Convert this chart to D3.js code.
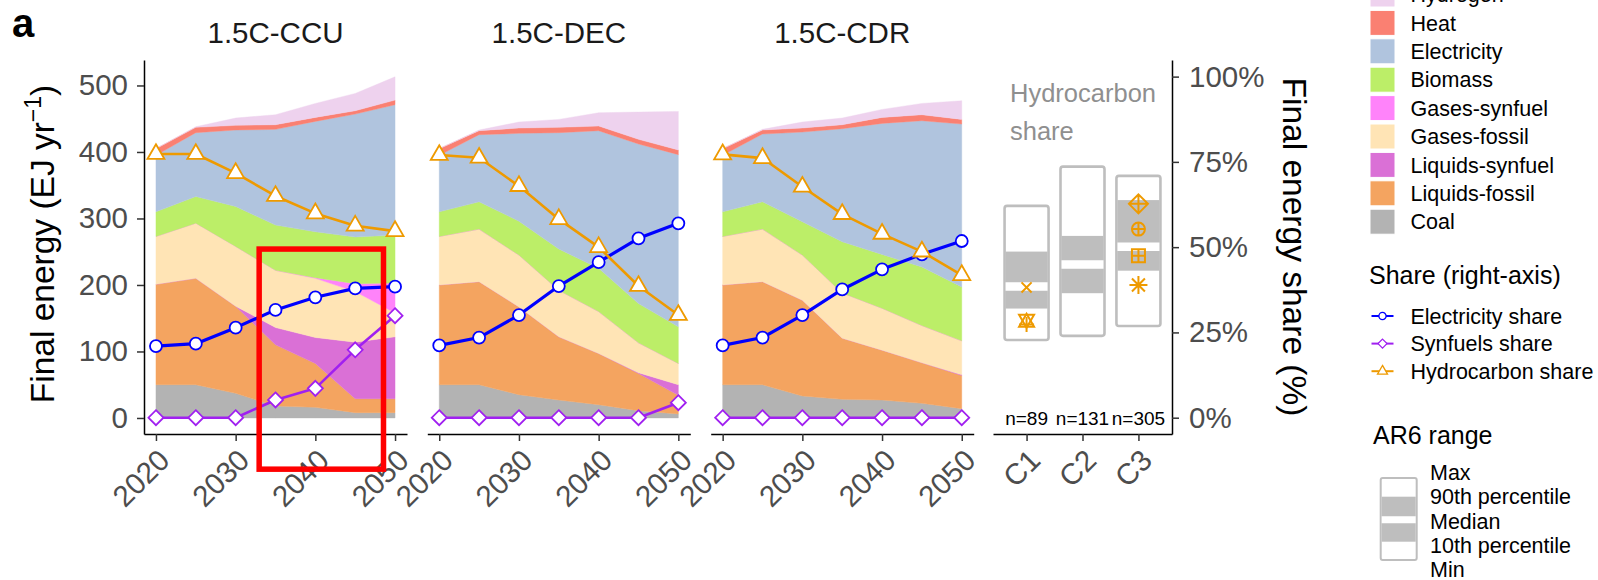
<!DOCTYPE html>
<html>
<head>
<meta charset="utf-8">
<script src="https://cdn.jsdelivr.net/npm/d3@7"></script>
<style>
  body { margin: 0; background: #fff; }
  text { font-family: "Liberation Sans", Arial, sans-serif; }
</style>
</head>
<body>
<svg id="chart" width="1598" height="580"></svg>
<script>
// ---- data ----
var years = [2020, 2025, 2030, 2035, 2040, 2045, 2050];
var scenarios = ["1.5C-CCU", "1.5C-DEC", "1.5C-CDR"];
var fuels = ["Coal", "Liquids-fossil", "Liquids-synfuel", "Gases-fossil", "Gases-synfuel",
             "Biomass", "Electricity", "Heat", "Hydrogen"];
var fuelColours = ["#b3b3b3", "#f4a460", "#da70d6", "#ffe4b5", "#ff83fa",
                   "#bcee68", "#b0c4de", "#fa8072", "#eed2ee"];

// final energy by fuel (EJ/yr), rows in the order of `fuels`
var energyCCU = [
  [50, 50, 37, 18, 16, 8, 8],
  [151, 160, 131, 92, 66, 21, 21],
  [0, 0, 0, 26, 39, 85, 93],
  [72, 83, 90, 86, 89, 76, 36],
  [0, 0, 0, 0, 1, 12, 45],
  [37, 40, 60, 68, 69, 70, 72],
  [85, 96, 115, 144, 166, 185, 196],
  [10, 8, 7, 7, 6, 5, 7],
  [0, 1, 11, 15, 21, 26, 35]
];
var energyDEC = [
  [50, 50, 35, 27, 20, 11, 6],
  [150, 155, 132, 95, 77, 56, 28],
  [0, 0, 0, 0, 0, 1, 16],
  [73, 79, 78, 70, 63, 45, 32],
  [0, 0, 0, 0, 0, 0, 0],
  [37, 41, 51, 62, 65, 59, 55],
  [85, 101, 132, 175, 207, 240, 259],
  [10, 6, 8, 8, 7, 7, 7],
  [0, 1, 9, 12, 20, 41, 58]
];
var energyCDR = [
  [50, 50, 33, 28, 27, 22, 14],
  [150, 155, 144, 92, 75, 61, 50],
  [0, 0, 0, 0, 0, 0, 1],
  [73, 79, 68, 68, 63, 56, 51],
  [0, 0, 0, 0, 0, 0, 0],
  [37, 41, 50, 77, 81, 88, 81],
  [85, 102, 135, 170, 197, 220, 245],
  [10, 6, 6, 6, 9, 9, 7],
  [0, 1, 9, 10, 12, 17, 28]
];

// shares (right axis): electricity, synfuels, hydrocarbon
var shareNames = ["Electricity share", "Synfuels share", "Hydrocarbon share"];
var shareColours = ["#0000ff", "#a020f0", "#ee9a00"];
var shareShapes = ["circle", "diamond", "triangle"];
var shareCCU = [
  [0.210, 0.217, 0.264, 0.316, 0.353, 0.379, 0.384],
  [0, 0, 0, 0.052, 0.086, 0.199, 0.299],
  [0.773, 0.773, 0.717, 0.650, 0.599, 0.563, 0.547]
];
var shareDEC = [
  [0.212, 0.235, 0.301, 0.386, 0.456, 0.526, 0.570],
  [0, 0, 0, 0, 0, 0, 0.044],
  [0.770, 0.762, 0.679, 0.582, 0.500, 0.386, 0.301]
];
var shareCDR = [
  [0.212, 0.235, 0.301, 0.376, 0.435, 0.479, 0.518],
  [0, 0, 0, 0, 0, 0, 0],
  [0.772, 0.761, 0.677, 0.597, 0.539, 0.487, 0.418]
];

// AR6 hydrocarbon share ranges
var ar6Cats = ["C1", "C2", "C3"];
var ar6N = [89, 131, 305];
var ar6Min = [0.228, 0.240, 0.269];
var ar6P10 = [0.320, 0.365, 0.431];
var ar6Median = [0.385, 0.449, 0.501];
var ar6P90 = [0.487, 0.533, 0.638];
var ar6Max = [0.621, 0.736, 0.709];
var ar6MarkerCat = ["C1", "C1", "C1", "C1", "C3", "C3", "C3", "C3"];
var ar6MarkerValue = [0.382, 0.289, 0.279, 0.273, 0.627, 0.553, 0.475, 0.389];
var ar6MarkerShape = ["x", "triDown", "triUp", "plus", "diamondPlus", "circlePlus", "squarePlus", "asterisk"];

var yTicks = [0, 100, 200, 300, 400, 500];
var shareTicks = [0, 0.25, 0.5, 0.75, 1];
var yearTicks = [2020, 2030, 2040, 2050];

// ---- layout ----
var svg = d3.select("#chart");
var font = "'Liberation Sans', Arial, sans-serif";
var panelLeft = [144, 427.3, 710.7];
var panelWidth = 263;
var plotTop = 60, plotBottom = 434;
var orange = "#ee9a00";
var boxGrey = "#bebebe";

var yEnergy = d3.scaleLinear().domain([-24.1, 538.3]).range([plotBottom, plotTop]);
var yShare = d3.scaleLinear().domain([-0.0478, 1.0487]).range([plotBottom, plotTop]);

function markerPath(shape, x, y, s) {
  var p = d3.path();
  var h = s * Math.sqrt(3);
  if (shape === "diamond" || shape === "diamondPlus") {
    p.moveTo(x, y - s); p.lineTo(x + s, y); p.lineTo(x, y + s); p.lineTo(x - s, y); p.closePath();
  }
  if (shape === "triangle" || shape === "triUp") {
    p.moveTo(x, y - 2 * h / 3); p.lineTo(x + s, y + h / 3); p.lineTo(x - s, y + h / 3); p.closePath();
  }
  if (shape === "triDown") {
    p.moveTo(x, y + 2 * h / 3); p.lineTo(x + s, y - h / 3); p.lineTo(x - s, y - h / 3); p.closePath();
  }
  if (shape === "squarePlus") {
    p.rect(x - s, y - s, 2 * s, 2 * s);
  }
  if (shape === "circle" || shape === "circlePlus") {
    p.moveTo(x + s, y); p.arc(x, y, s, 0, 2 * Math.PI);
  }
  if (shape === "plus" || shape === "asterisk" || /Plus$/.test(shape)) {
    p.moveTo(x - s, y); p.lineTo(x + s, y); p.moveTo(x, y - s); p.lineTo(x, y + s);
  }
  if (shape === "x" || shape === "asterisk") {
    var d = s * 0.72;
    p.moveTo(x - d, y - d); p.lineTo(x + d, y + d); p.moveTo(x - d, y + d); p.lineTo(x + d, y - d);
  }
  return p.toString();
}

function styleAxis(g, size) {
  g.selectAll(".domain").attr("stroke", "#000").attr("stroke-width", 1.5);
  g.selectAll(".tick line").attr("stroke", "#333").attr("stroke-width", 1.5);
  g.selectAll(".tick text").attr("fill", "#4d4d4d").attr("font-size", size).attr("font-family", font);
}

function rotateLabels(g) {
  g.selectAll(".tick text")
    .attr("x", 0).attr("y", 0).attr("dy", "0.72em")
    .attr("transform", "translate(0,13) rotate(-45)")
    .style("text-anchor", "end");
}

var energySets = [energyCCU, energyDEC, energyCDR];
var shareSets = [shareCCU, shareDEC, shareCDR];
var redBoxX = null;

scenarios.forEach(function (name, p) {
  var x = d3.scaleLinear().domain([2018.5, 2051.5]).range([panelLeft[p], panelLeft[p] + panelWidth]);
  if (p === 0) redBoxX = x;
  var energy = energySets[p];
  var rows = years.map(function (yr, i) {
    var r = { year: yr };
    fuels.forEach(function (f, j) { r[f] = energy[j][i]; });
    return r;
  });
  var series = d3.stack().keys(fuels)(rows);
  var area = d3.area()
    .x(function (d) { return x(d.data.year); })
    .y0(function (d) { return yEnergy(d[0]); })
    .y1(function (d) { return yEnergy(d[1]); });

  var g = svg.append("g");
  g.selectAll("path.layer").data(series).enter().append("path")
    .attr("class", "layer")
    .attr("d", area)
    .attr("fill", function (d, i) { return fuelColours[i]; })
    .attr("stroke", function (d, i) { return fuelColours[i]; })
    .attr("stroke-width", 0.4);

  var shares = shareSets[p];
  var line = d3.line()
    .x(function (d, i) { return x(years[i]); })
    .y(function (d) { return yShare(d); });
  shares.forEach(function (s, k) {
    g.append("path").attr("d", line(s)).attr("fill", "none")
      .attr("stroke", shareColours[k]).attr("stroke-width", k === 0 ? 3.2 : 2.6)
      .attr("stroke-linejoin", "round");
  });
  var sizes = [6, 7.5, 8.5];
  shares.forEach(function (s, k) {
    g.selectAll("path.pt" + k).data(s).enter().append("path")
      .attr("class", "pt" + k)
      .attr("d", function (d, i) { return markerPath(shareShapes[k], x(years[i]), yShare(d), sizes[k]); })
      .attr("fill", "#fff").attr("stroke", shareColours[k]).attr("stroke-width", 1.8);
  });

  var ax = svg.append("g").attr("transform", "translate(0," + plotBottom + ")")
    .call(d3.axisBottom(x).tickValues(yearTicks).tickFormat(d3.format("d")).tickSize(7).tickSizeOuter(0));
  styleAxis(ax, 29.5);
  rotateLabels(ax);

  svg.append("text").attr("x", panelLeft[p] + panelWidth / 2).attr("y", 43)
    .attr("text-anchor", "middle").attr("font-size", 29.5).attr("fill", "#1a1a1a").text(name);
});

// left axis
var axL = svg.append("g").attr("transform", "translate(" + panelLeft[0] + ",0)")
  .call(d3.axisLeft(yEnergy).tickValues(yTicks).tickSize(7).tickPadding(9).tickSizeOuter(0));
styleAxis(axL, 29.5);

// ---- AR6 panel ----
var xCat = d3.scalePoint().domain(ar6Cats).range([993, 1172]).padding(0.6);
var ar6 = svg.append("g");
var bw = 44;
ar6Cats.forEach(function (c, i) {
  var cx = xCat(c);
  ar6.append("rect").attr("x", cx - bw / 2).attr("width", bw)
    .attr("y", yShare(ar6Max[i])).attr("height", yShare(ar6Min[i]) - yShare(ar6Max[i]))
    .attr("rx", 2.5).attr("fill", "#fff").attr("stroke", boxGrey).attr("stroke-width", 2.6);
  ar6.append("rect").attr("x", cx - bw / 2 + 1).attr("width", bw - 2)
    .attr("y", yShare(ar6P90[i])).attr("height", yShare(ar6P10[i]) - yShare(ar6P90[i]))
    .attr("fill", boxGrey);
  ar6.append("line").attr("x1", cx - bw / 2 + 1).attr("x2", cx + bw / 2 - 1)
    .attr("y1", yShare(ar6Median[i])).attr("y2", yShare(ar6Median[i]))
    .attr("stroke", "#fff").attr("stroke-width", 8.5);
  ar6.append("text").attr("x", cx).attr("y", 425).attr("text-anchor", "middle")
    .attr("font-size", 19).attr("fill", "#000").text("n=" + ar6N[i]);
});
var mSizes = { x: 7, triDown: 7.5, triUp: 7.5, plus: 7.5, diamondPlus: 9.5, circlePlus: 6.5, squarePlus: 6.5, asterisk: 9 };
ar6MarkerValue.forEach(function (v, i) {
  var sh = ar6MarkerShape[i];
  ar6.append("path").attr("d", markerPath(sh, xCat(ar6MarkerCat[i]), yShare(v), mSizes[sh]))
    .attr("fill", "none").attr("stroke", orange).attr("stroke-width", 2);
});
ar6.append("text").attr("x", 1010).attr("y", 101.5).attr("font-size", 25.5).attr("fill", "#8f8f8f").text("Hydrocarbon");
ar6.append("text").attr("x", 1010).attr("y", 140).attr("font-size", 25.5).attr("fill", "#8f8f8f").text("share");

var axC = svg.append("g").attr("transform", "translate(0," + plotBottom + ")")
  .call(d3.axisBottom(xCat).tickSize(7).tickSizeOuter(0));
styleAxis(axC, 29.5);
rotateLabels(axC);

var axR = svg.append("g").attr("transform", "translate(1172,0)")
  .call(d3.axisRight(yShare).tickValues(shareTicks).tickFormat(d3.format(".0%")).tickSize(7).tickPadding(10).tickSizeOuter(0));
styleAxis(axR, 29.5);

// axis titles
var yTitle = svg.append("text").attr("transform", "translate(54,244) rotate(-90)")
  .attr("text-anchor", "middle").attr("font-size", 33.5).attr("fill", "#000");
yTitle.append("tspan").text("Final energy (EJ yr");
yTitle.append("tspan").attr("dy", -13).attr("font-size", 23).text("\u22121");
yTitle.append("tspan").attr("dy", 13).text(")");

svg.append("text").attr("transform", "translate(1283,247) rotate(90)")
  .attr("text-anchor", "middle").attr("font-size", 33.5).attr("fill", "#000")
  .text("Final energy share (%)");

svg.append("text").attr("x", 12).attr("y", 36.5).attr("font-size", 40).attr("font-weight", "bold")
  .attr("fill", "#000").text("a");

// red highlight box (data units on the CCU panel)
svg.append("rect")
  .attr("x", redBoxX(2032.95)).attr("y", yEnergy(254))
  .attr("width", redBoxX(2048.55) - redBoxX(2032.95)).attr("height", yEnergy(-77) - yEnergy(254))
  .attr("fill", "none").attr("stroke", "#ff0000").attr("stroke-width", 5.5);

// ---- legends ----
var leg = svg.append("g");
var fuelOrder = fuels.slice().reverse();
var colourOrder = fuelColours.slice().reverse();
fuelOrder.forEach(function (f, i) {
  var cy = -5.5 + i * 28.4;
  leg.append("rect").attr("x", 1370).attr("y", cy - 12.5).attr("width", 25).attr("height", 25)
    .attr("fill", colourOrder[i]).attr("stroke", "#fff").attr("stroke-width", 1);
  leg.append("text").attr("x", 1410.5).attr("y", cy + 7.7).attr("font-size", 21.5).attr("fill", "#000").text(f);
});

leg.append("text").attr("x", 1369).attr("y", 284.3).attr("font-size", 25).attr("fill", "#000").text("Share (right-axis)");
shareNames.forEach(function (n, k) {
  var cy = 316 + k * 27.6;
  leg.append("line").attr("x1", 1371.5).attr("x2", 1393.5).attr("y1", cy).attr("y2", cy)
    .attr("stroke", shareColours[k]).attr("stroke-width", 2);
  leg.append("path").attr("d", markerPath(shareShapes[k], 1382.5, cy, [3.6, 4.5, 5][k]))
    .attr("fill", "#fff").attr("stroke", shareColours[k]).attr("stroke-width", 1.3);
  leg.append("text").attr("x", 1410.5).attr("y", cy + 7.7).attr("font-size", 21.5).attr("fill", "#000").text(n);
});

leg.append("text").attr("x", 1373).attr("y", 444).attr("font-size", 25).attr("fill", "#000").text("AR6 range");
leg.append("rect").attr("x", 1380.7).attr("y", 478).attr("width", 36).attr("height", 82)
  .attr("rx", 2).attr("fill", "#fff").attr("stroke", boxGrey).attr("stroke-width", 2);
leg.append("rect").attr("x", 1381.7).attr("y", 496.7).attr("width", 34).attr("height", 45).attr("fill", boxGrey);
leg.append("line").attr("x1", 1381.7).attr("x2", 1415.7).attr("y1", 519.7).attr("y2", 519.7)
  .attr("stroke", "#fff").attr("stroke-width", 7);
["Max", "90th percentile", "Median", "10th percentile", "Min"].forEach(function (t, i) {
  leg.append("text").attr("x", 1430).attr("y", 480 + i * 24.3).attr("font-size", 21.5).attr("fill", "#000").text(t);
});
</script>
</body>
</html>
